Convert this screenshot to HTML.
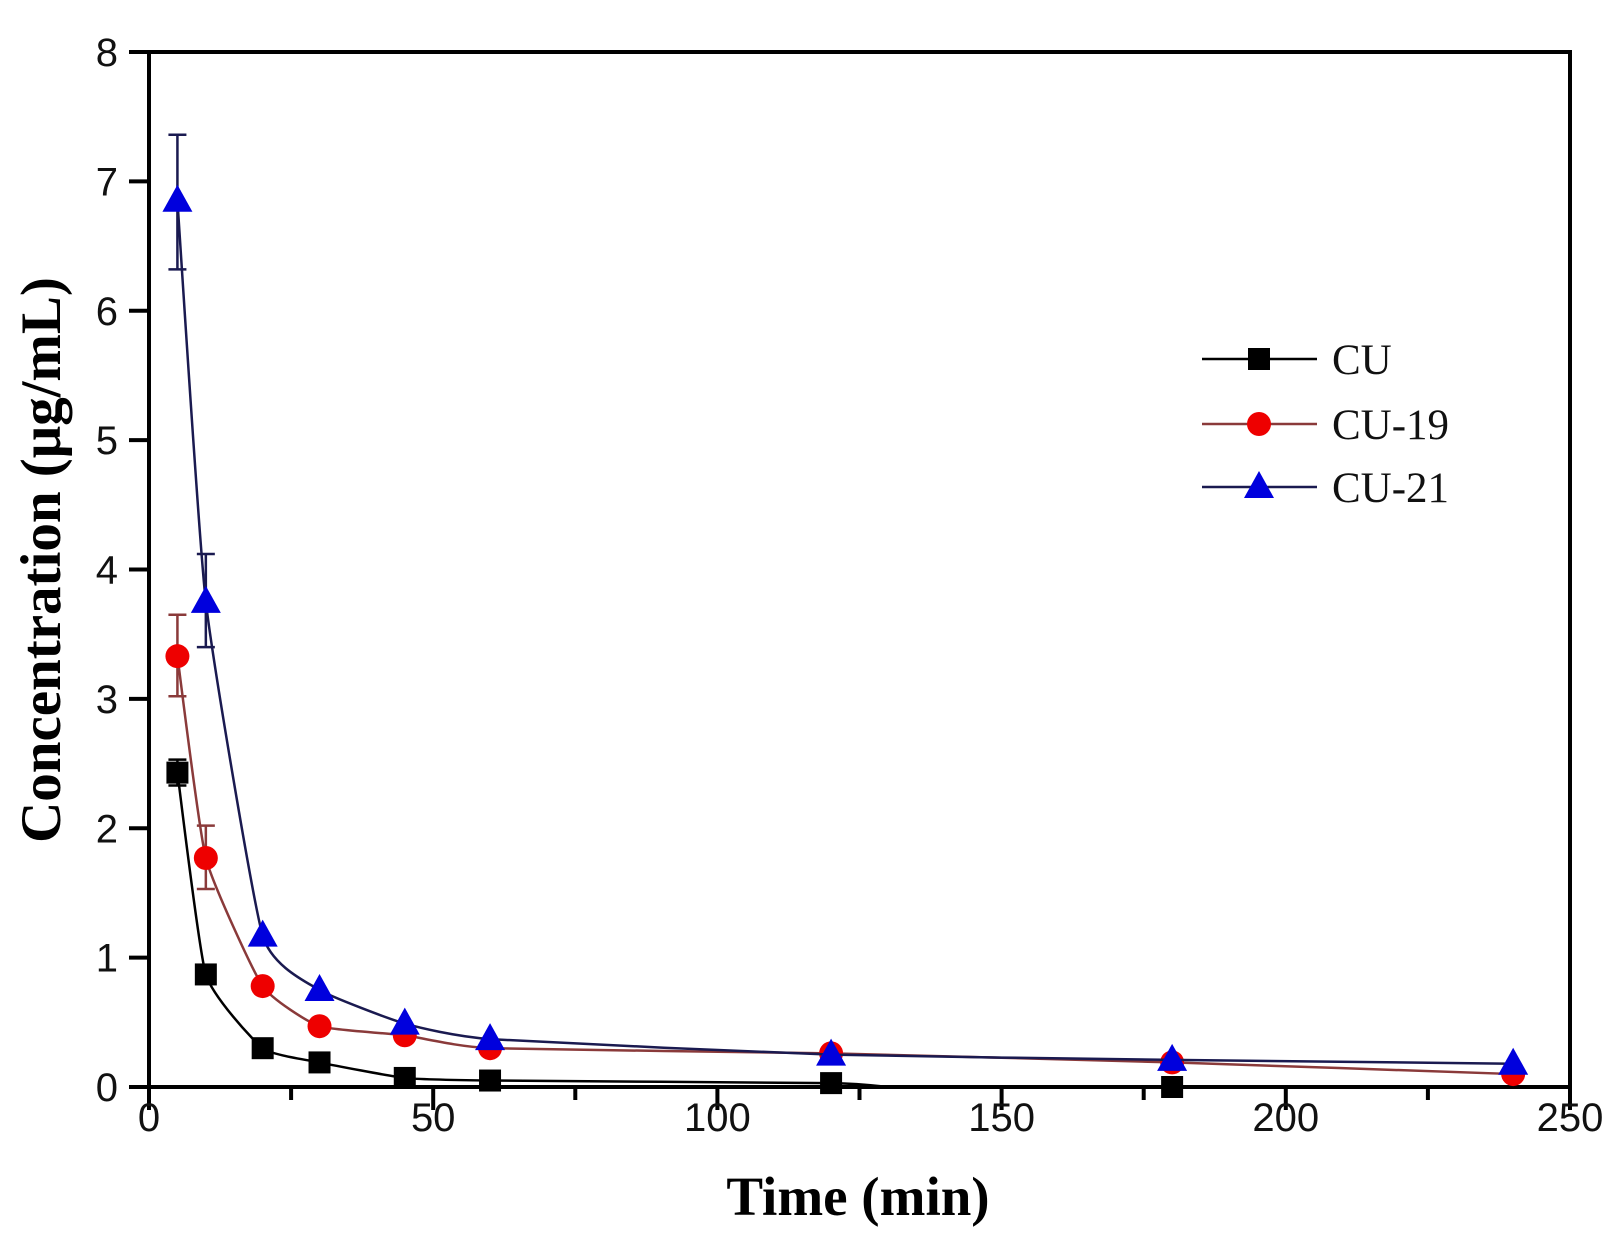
<!DOCTYPE html>
<html><head><meta charset="utf-8"><style>
html,body{margin:0;padding:0;background:#fff;}
svg{display:block;}
</style></head><body>
<svg id="s" width="1612" height="1239" xmlns="http://www.w3.org/2000/svg"></svg>
<script>
const X0=149,X1=1570,Y0=1087,Y1=52;
const sx=t=>X0+(X1-X0)*t/250, sy=v=>Y0-(Y0-Y1)*v/8;
let h='';
h+=`<rect x="${X0}" y="${Y1}" width="${X1-X0}" height="${Y0-Y1}" fill="none" stroke="#000" stroke-width="4"/>`;
for(let i=0;i<=10;i++){const x=sx(i*25);const L=i%2==0?23:13;h+=`<line x1="${x}" y1="${Y0}" x2="${x}" y2="${Y0+L}" stroke="#000" stroke-width="4"/>`;}
for(let i=0;i<=5;i++){h+=`<text x="${sx(i*50)}" y="1131" font-family="Liberation Sans,sans-serif" font-size="40" text-anchor="middle" fill="#111">${i*50}</text>`;}
for(let i=0;i<=8;i++){const y=sy(i);h+=`<line x1="${X0-20}" y1="${y}" x2="${X0}" y2="${y}" stroke="#000" stroke-width="4"/>`;
h+=`<text x="118" y="${y+14}" font-family="Liberation Sans,sans-serif" font-size="40" text-anchor="end" fill="#111">${i}</text>`;}
h+=`<text x="858" y="1215" font-family="Liberation Serif,serif" font-weight="bold" font-size="55" text-anchor="middle">Time (min)</text>`;
h+=`<text transform="translate(60,560) rotate(-90)" font-family="Liberation Serif,serif" font-weight="bold" font-size="57" text-anchor="middle">Concentration (μg/mL)</text>`;
const T=[5,10,20,30,45,60,120,180,240];
const S=[
 {c:'#000',l:'#000',e:'#000',m:'sq',v:[2.43,0.87,0.30,0.19,0.07,0.05,0.03,0.0,null],err:{0:[2.33,2.53]}},
 {c:'#e00',l:'#8a3a3a',e:'#8a3a3a',m:'ci',v:[3.33,1.77,0.78,0.47,0.40,0.30,0.26,0.19,0.10],err:{0:[3.02,3.65],1:[1.53,2.02]}},
 {c:'#00d',l:'#1a1a50',e:'#1a1a50',m:'tr',v:[6.85,3.75,1.17,0.75,0.49,0.37,0.25,0.21,0.18],err:{0:[6.32,7.36],1:[3.40,4.12]}}
];
function path(p){let d=`M${p[0][0]},${p[0][1]}`;for(let i=0;i<p.length-1;i++){const a=p[Math.max(0,i-1)],b=p[i],c=p[i+1],e=p[Math.min(p.length-1,i+2)];
const k=0.08;d+=` C${b[0]+(c[0]-a[0])*k},${b[1]+(c[1]-a[1])*k} ${c[0]-(e[0]-b[0])*k},${c[1]-(e[1]-b[1])*k} ${c[0]},${c[1]}`;}return d;}
function mk(m,x,y,c){if(m=='sq')return `<rect x="${x-11}" y="${y-11}" width="22" height="22" fill="${c}"/>`;
if(m=='ci')return `<circle cx="${x}" cy="${y}" r="12" fill="${c}"/>`;
return `<polygon points="${x},${y-16} ${x+15},${y+11} ${x-15},${y+11}" fill="${c}"/>`;}
for(const s of S){let p=[];s.v.forEach((v,i)=>{if(v!=null)p.push([sx(T[i]),sy(v)]);});
let lp=p;
if(s.m=='sq'){lp=p.slice(0,7);lp.push([sx(130),sy(0.0)]);}
h+=`<path d="${path(lp)}" fill="none" stroke="${s.l}" stroke-width="2.5"/>`;
for(const k in s.err){const x=sx(T[k]);const [a,b]=s.err[k];h+=`<path d="M${x},${sy(a)}V${sy(b)}M${x-9},${sy(a)}h18M${x-9},${sy(b)}h18" stroke="${s.e}" stroke-width="2.5" fill="none"/>`;}
p.forEach((q,i)=>{h+=mk(s.m,q[0],q[1],s.c);});
}
const LY=[359,424,487],names=['CU','CU-19','CU-21'];
S.forEach((s,i)=>{h+=`<line x1="1202" y1="${LY[i]}" x2="1317" y2="${LY[i]}" stroke="${s.l}" stroke-width="2.5"/>`;h+=mk(s.m,1259,LY[i],s.c);
h+=`<text x="1332" y="${LY[i]+15}" font-family="Liberation Serif,serif" font-size="43" fill="#111">${names[i]}</text>`;});
document.getElementById('s').innerHTML=h;
</script>
</body></html>
